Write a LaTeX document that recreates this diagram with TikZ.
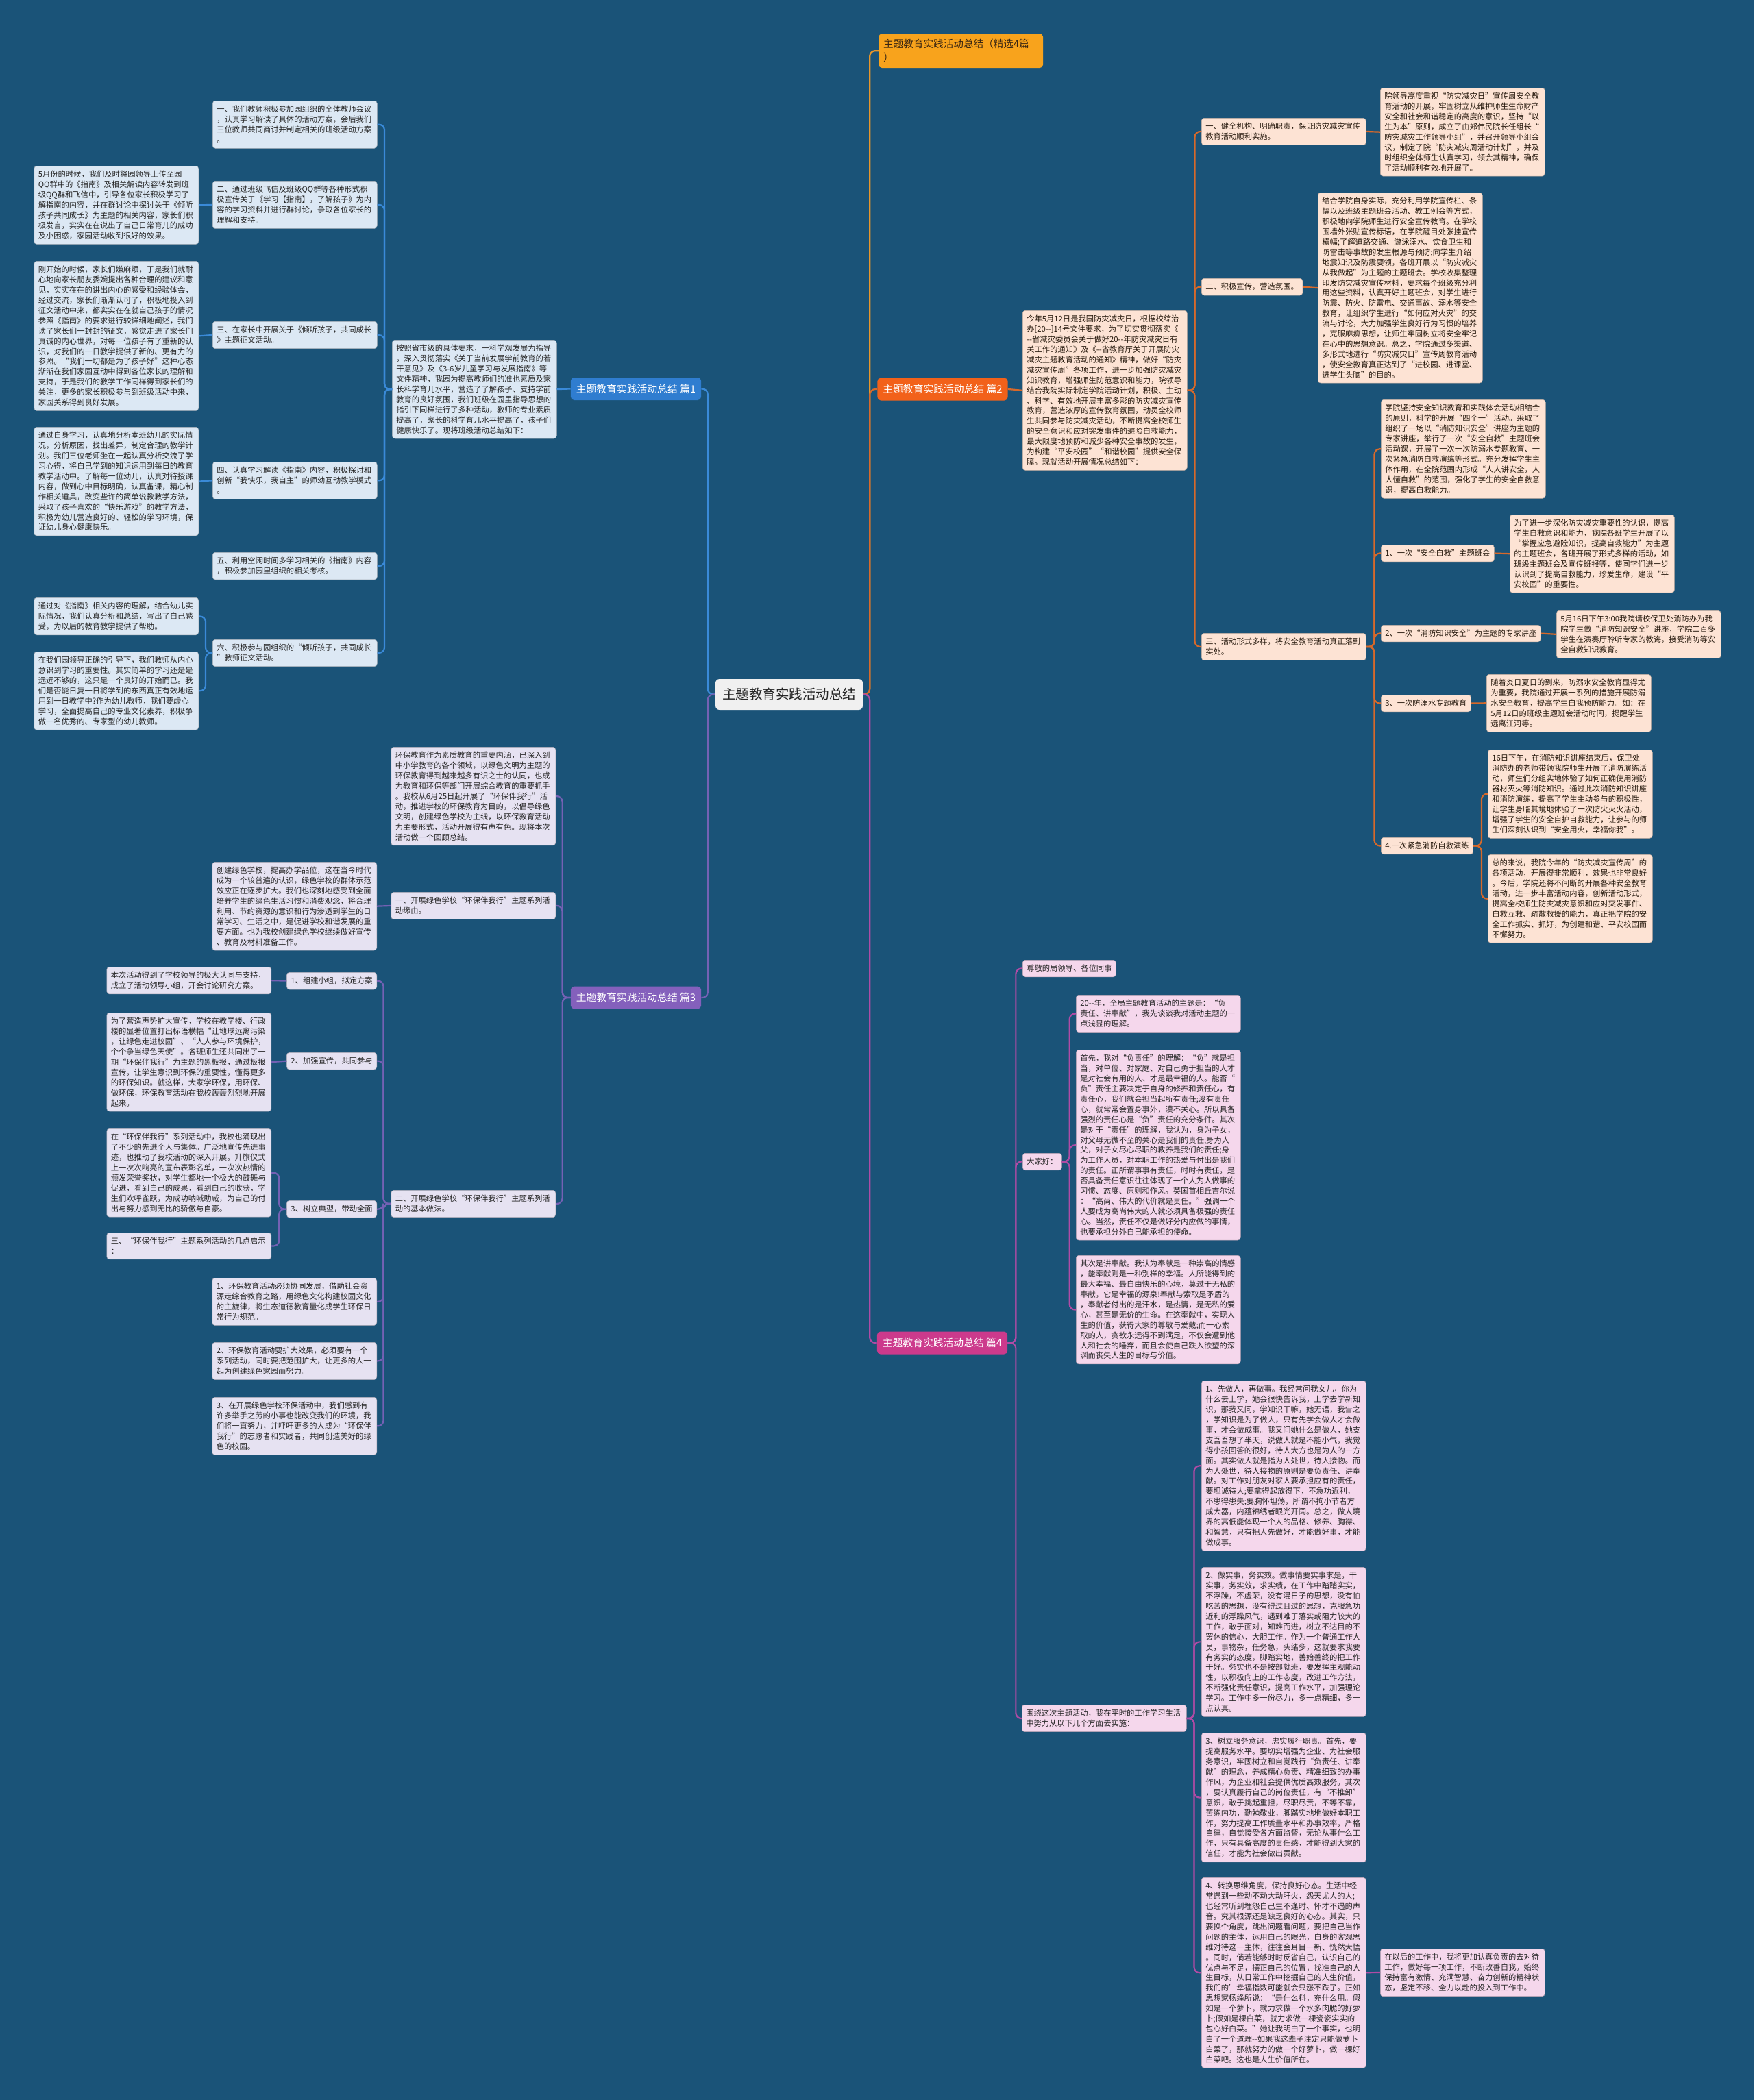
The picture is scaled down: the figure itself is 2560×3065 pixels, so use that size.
\documentclass[tikz,border=0pt]{standalone}
\usepackage{fontspec}
\setmainfont{Noto Sans CJK SC}
\definecolor{bgc}{HTML}{1A5378}
\definecolor{cA}{HTML}{3A8AD8}
\definecolor{lA}{HTML}{2F7DD0}
\definecolor{fA}{HTML}{DCE8F4}
\definecolor{cB}{HTML}{D8692A}
\definecolor{lB}{HTML}{F2611A}
\definecolor{fB}{HTML}{FDE3D4}
\definecolor{cC}{HTML}{7461B4}
\definecolor{lC}{HTML}{8460BC}
\definecolor{fC}{HTML}{E6E2F2}
\definecolor{cD}{HTML}{B04BA5}
\definecolor{lD}{HTML}{CC3A8C}
\definecolor{fD}{HTML}{F5D7EC}
\definecolor{topc}{HTML}{F8A31C}
\definecolor{topl}{HTML}{E8962A}
\newcommand\myleaf{\fontsize{11.3}{14.9}\selectfont}
\tikzset{
  leaf/.style={rounded corners=4pt, inner xsep=6pt, inner ysep=7pt, align=left, font=\myleaf, line width=0.5pt},
  wA/.style={leaf, fill=fA, draw=fA!75!black, text=black!85},
  wB/.style={leaf, fill=fB, draw=fB!75!black, text=black!80!brown},
  wC/.style={leaf, fill=fC, draw=fC!75!black, text=black!85},
  wD/.style={leaf, fill=fD, draw=fD!75!black, text=black!85},
  tw/.style={text width=228pt},
  lab/.style={rounded corners=5pt, text=white, font=\fontsize{14.8}{18}\selectfont, inner xsep=8pt, minimum height=33pt},
  ln/.style={line width=2.2pt, rounded corners=8pt},
  lnA/.style={ln, draw=cA},
  lnB/.style={ln, draw=cB},
  lnC/.style={ln, draw=cC},
  lnD/.style={ln, draw=cD},
}
\begin{document}
\begin{tikzpicture}[x=1pt,y=-1pt]
\fill[bgc] (0,0) rectangle (2560,3065);
\useasboundingbox (0,0) rectangle (2560,3065);

% center and top
\node[rounded corners=6pt, fill=black!6, text=black!85, font=\fontsize{19.5}{22}\selectfont, inner xsep=10pt, minimum height=45pt] (c) at (1151.5,1013.5) {主题教育实践活动总结};
\node[anchor=north west, rounded corners=5pt, fill=topc, text=black!70!brown, align=left, text width=226pt, inner xsep=7pt, inner ysep=8pt, font=\fontsize{14.6}{20}\selectfont] (t0) at (1282,49) {主题教育实践活动总结（精选4篇\\）};

% ===== Branch A (篇1) =====
\node[lab, fill=lA] (p1) at (928,567.5) {主题教育实践活动总结 篇1};
\node[wA, tw, anchor=north west] (a0) at (572,496) {按照省市级的具体要求，一科学观发展为指导\\，深入贯彻落实《关于当前发展学前教育的若\\干意见》及《3-6岁儿童学习与发展指南》等\\文件精神，我园为提高教师们的准也素质及家\\长科学育儿水平，营造了了解孩子、支持学前\\教育的良好氛围，我们班级在园里指导思想的\\指引下同样进行了多种活动，教师的专业素质\\提高了，家长的科学育儿水平提高了，孩子们\\健康快乐了。现将班级活动总结如下：};
\node[wA, tw, anchor=north west] (a1) at (310,147) {一、我们教师积极参加园组织的全体教师会议\\，认真学习解读了具体的活动方案，会后我们\\三位教师共同商讨并制定相关的班级活动方案\\。};
\node[wA, tw, anchor=north west] (a2) at (310,264) {二、通过班级飞信及班级QQ群等各种形式积\\极宣传关于《学习【指南】，了解孩子》为内\\容的学习资料并进行群讨论，争取各位家长的\\理解和支持。};
\node[wA, tw, anchor=north west] (a3) at (310,469) {三、在家长中开展关于《倾听孩子，共同成长\\》主题征文活动。};
\node[wA, tw, anchor=north west] (a4) at (310,674) {四、认真学习解读《指南》内容，积极探讨和\\创新“我快乐，我自主”的师幼互动教学模式\\。};
\node[wA, tw, anchor=north west] (a5) at (310,806) {五、利用空闲时间多学习相关的《指南》内容\\，积极参加园里组织的相关考核。};
\node[wA, tw, anchor=north west] (a6) at (310,933) {六、积极参与园组织的“倾听孩子，共同成长\\”教师征文活动。};
\node[wA, tw, anchor=north west] (a2c) at (49.5,242) {5月份的时候，我们及时将园领导上传至园\\QQ群中的《指南》及相关解读内容转发到班\\级QQ群和飞信中，引导各位家长积极学习了\\解指南的内容，并在群讨论中探讨关于《倾听\\孩子共同成长》为主题的相关内容，家长们积\\极发言，实实在在说出了自己日常育儿的成功\\及小困惑，家园活动收到很好的效果。};
\node[wA, tw, anchor=north west] (a3c) at (49.5,381) {刚开始的时候，家长们嫌麻烦，于是我们就耐\\心地向家长朋友委婉提出各种合理的建议和意\\见，实实在在的讲出内心的感受和经验体会，\\经过交流，家长们渐渐认可了，积极地投入到\\征文活动中来，都实实在在就自己孩子的情况\\参照《指南》的要求进行较详细地阐述，我们\\读了家长们一封封的征文，感觉走进了家长们\\真诚的内心世界，对每一位孩子有了重新的认\\识，对我们的一日教学提供了新的、更有力的\\参照。“我们一切都是为了孩子好”这种心态\\渐渐在我们家园互动中得到各位家长的理解和\\支持，于是我们的教学工作同样得到家长们的\\关注，更多的家长积极参与到班级活动中来，\\家园关系得到良好发展。};
\node[wA, tw, anchor=north west] (a4c) at (49.5,623) {通过自身学习，认真地分析本班幼儿的实际情\\况，分析原因，找出差异，制定合理的教学计\\划。我们三位老师坐在一起认真分析交流了学\\习心得，将自己学到的知识运用到每日的教育\\教学活动中。了解每一位幼儿，认真对待授课\\内容，做到心中目标明确，认真备课，精心制\\作相关道具，改变些许的简单说教教学方法，\\采取了孩子喜欢的“快乐游戏”的教学方法，\\积极为幼儿营造良好的、轻松的学习环境，保\\证幼儿身心健康快乐。};
\node[wA, tw, anchor=north west] (a6c1) at (49.5,872) {通过对《指南》相关内容的理解，结合幼儿实\\际情况，我们认真分析和总结，写出了自己感\\受，为以后的教育教学提供了帮助。};
\node[wA, tw, anchor=north west] (a6c2) at (49.5,951) {在我们园领导正确的引导下，我们教师从内心\\意识到学习的重要性。其实简单的学习还是是\\远远不够的，这只是一个良好的开始而已。我\\们是否能日复一日将学到的东西真正有效地运\\用到一日教学中?作为幼儿教师，我们要虚心\\学习，全面提高自己的专业文化素养，积极争\\做一名优秀的、专家型的幼儿教师。};

% ===== Branch B (篇2) =====
\node[lab, fill=lB] (p2) at (1375.5,568) {主题教育实践活动总结 篇2};
\node[wB, tw, anchor=north west] (b0) at (1492,453) {今年5月12日是我国防灾减灾日，根据校综治\\办[20-{}-]14号文件要求，为了切实贯彻落实《\\-{}-省减灾委员会关于做好20-{}-年防灾减灾日有\\关工作的通知》及《-{}-省教育厅关于开展防灾\\减灾主题教育活动的通知》精神，做好“防灾\\减灾宣传周”各项工作，进一步加强防灾减灾\\知识教育，增强师生防范意识和能力，院领导\\结合我院实际制定学院活动计划，积极、主动\\、科学、有效地开展丰富多彩的防灾减灾宣传\\教育，营造浓厚的宣传教育氛围，动员全校师\\生共同参与防灾减灾活动，不断提高全校师生\\的安全意识和应对突发事件的避险自救能力，\\最大限度地预防和减少各种安全事故的发生，\\为构建“平安校园”“和谐校园”提供安全保\\障。现就活动开展情况总结如下：};
\node[wB, tw, anchor=north west] (b1) at (1753,172) {一、健全机构、明确职责，保证防灾减灾宣传\\教育活动顺利实施。};
\node[wB, tw, anchor=north west] (b1c) at (2014,128) {院领导高度重视“防灾减灾日”宣传周安全教\\育活动的开展，牢固树立从维护师生生命财产\\安全和社会和谐稳定的高度的意识，坚持“以\\生为本”原则，成立了由郑伟民院长任组长“\\防灾减灾工作领导小组”，并召开领导小组会\\议，制定了院“防灾减灾周活动计划”，并及\\时组织全体师生认真学习，领会其精神，确保\\了活动顺利有效地开展了。};
\node[wB, anchor=north west] (b2) at (1753,406) {二、积极宣传，营造氛围。};
\node[wB, tw, anchor=north west] (b2c) at (1923,281) {结合学院自身实际，充分利用学院宣传栏、条\\幅以及班级主题班会活动、教工例会等方式，\\积极地向学院师生进行安全宣传教育。在学校\\围墙外张贴宣传标语，在学院醒目处张挂宣传\\横幅;了解道路交通、游泳溺水、饮食卫生和\\防雷击等事故的发生根源与预防;向学生介绍\\地震知识及防震要领，各班开展以“防灾减灾\\从我做起”为主题的主题班会。学校收集整理\\印发防灾减灾宣传材料，要求每个班级充分利\\用这些资料，认真开好主题班会，对学生进行\\防震、防火、防雷电、交通事故、溺水等安全\\教育，让组织学生进行“如何应对火灾”的交\\流与讨论，大力加强学生良好行为习惯的培养\\，克服麻痹思想，让师生牢固树立将安全牢记\\在心中的思想意识。总之，学院通过多渠道、\\多形式地进行“防灾减灾日”宣传周教育活动\\，使安全教育真正达到了“进校园、进课堂、\\进学生头脑”的目的。};
\node[wB, tw, anchor=north west] (b3) at (1753,924) {三、活动形式多样，将安全教育活动真正落到\\实处。};
\node[wB, tw, anchor=north west] (b30) at (2015,583) {学院坚持安全知识教育和实践体会活动相结合\\的原则，科学的开展“四个一”活动。采取了\\组织了一场以“消防知识安全”讲座为主题的\\专家讲座，举行了一次“安全自救”主题班会\\活动课，开展了一次一次防溺水专题教育、一\\次紧急消防自救演练等形式。充分发挥学生主\\体作用，在全院范围内形成“人人讲安全，人\\人懂自救”的范围，强化了学生的安全自救意\\识，提高自救能力。};
\node[wB, anchor=north west] (b31) at (2015,795) {1、一次“安全自救”主题班会};
\node[wB, tw, anchor=north west] (b31c) at (2203,751) {为了进一步深化防灾减灾重要性的认识，提高\\学生自救意识和能力，我院各班学生开展了以\\“掌握应急避险知识，提高自救能力”为主题\\的主题班会，各班开展了形式多样的活动，如\\班级主题班会及宣传班报等，使同学们进一步\\认识到了提高自救能力，珍爱生命，建设“平\\安校园”的重要性。};
\node[wB, anchor=north west] (b32) at (2015,912) {2、一次“消防知识安全”为主题的专家讲座};
\node[wB, tw, anchor=north west] (b32c) at (2271,891) {5月16日下午3:00我院请校保卫处消防办为我\\院学生做“消防知识安全”讲座，学院二百多\\学生在演奏厅聆听专家的教诲，接受消防等安\\全自救知识教育。};
\node[wB, anchor=north west] (b33) at (2015,1014) {3、一次防溺水专题教育};
\node[wB, tw, anchor=north west] (b33c) at (2169,984) {随着炎日夏日的到来，防溺水安全教育显得尤\\为重要，我院通过开展一系列的措施开展防溺\\水安全教育，提高学生自我预防能力。如：在\\5月12日的班级主题班会活动时间，提醒学生\\远离江河等。};
\node[wB, anchor=north west] (b34) at (2015,1222) {4.一次紧急消防自救演练};
\node[wB, tw, anchor=north west] (b34c1) at (2171,1094) {16日下午，在消防知识讲座结束后，保卫处\\消防办的老师带领我院师生开展了消防演练活\\动，师生们分组实地体验了如何正确使用消防\\器材灭火等消防知识。通过此次消防知识讲座\\和消防演练，提高了学生主动参与的积极性，\\让学生身临其境地体验了一次防火灭火活动，\\增强了学生的安全自护自救能力，让参与的师\\生们深刻认识到“安全用火，幸福你我”。};
\node[wB, tw, anchor=north west] (b34c2) at (2171,1247) {总的来说，我院今年的“防灾减灾宣传周”的\\各项活动，开展得非常顺利，效果也非常良好\\。今后，学院还将不间断的开展各种安全教育\\活动，进一步丰富活动内容，创新活动形式，\\提高全校师生防灾减灾意识和应对突发事件、\\自救互救、疏散救援的能力，真正把学院的安\\全工作抓实、抓好，为创建和谐、平安校园而\\不懈努力。};

% ===== Branch C (篇3) =====
\node[lab, fill=lC] (p3) at (928,1456) {主题教育实践活动总结 篇3};
\node[wC, tw, anchor=north east] (c0) at (811,1090) {环保教育作为素质教育的重要内涵，已深入到\\中小学教育的各个领域，以绿色文明为主题的\\环保教育得到越来越多有识之士的认同，也成\\为教育和环保等部门开展综合教育的重要抓手\\。我校从6月25日起开展了“环保伴我行”活\\动，推进学校的环保教育为目的，以倡导绿色\\文明，创建绿色学校为主线，以环保教育活动\\为主要形式，活动开展得有声有色。现将本次\\活动做一个回顾总结。};
\node[wC, tw, anchor=north east] (c1) at (811,1302) {一、开展绿色学校“环保伴我行”主题系列活\\动缘由。};
\node[wC, tw, anchor=north east] (c1c) at (550,1258) {创建绿色学校，提高办学品位，这在当今时代\\成为一个较普遍的认识，绿色学校的群体示范\\效应正在逐步扩大。我们也深刻地感受到全面\\培养学生的绿色生活习惯和消费观念，将合理\\利用、节约资源的意识和行为渗透到学生的日\\常学习、生活之中，是促进学校和谐发展的重\\要方面。也为我校创建绿色学校继续做好宣传\\、教育及材料准备工作。};
\node[wC, tw, anchor=north east] (c2) at (811,1737) {二、开展绿色学校“环保伴我行”主题系列活\\动的基本做法。};
\node[wC, anchor=north east] (c21) at (550,1419) {1、组建小组，拟定方案};
\node[wC, tw, anchor=north east] (c21c) at (396,1411) {本次活动得到了学校领导的极大认同与支持，\\成立了活动领导小组，开会讨论研究方案。};
\node[wC, anchor=north east] (c22) at (550,1536) {2、加强宣传，共同参与};
\node[wC, tw, anchor=north east] (c22c) at (396,1478) {为了营造声势扩大宣传，学校在教学楼、行政\\楼的显著位置打出标语横幅“让地球远离污染\\，让绿色走进校园”、“人人参与环境保护，\\个个争当绿色天使”。各班师生还共同出了一\\期“环保伴我行”为主题的黑板报，通过板报\\宣传，让学生意识到环保的重要性，懂得更多\\的环保知识。就这样，大家学环保，用环保、\\做环保，环保教育活动在我校轰轰烈烈地开展\\起来。};
\node[wC, anchor=north east] (c23) at (550,1752) {3、树立典型，带动全面};
\node[wC, tw, anchor=north east] (c23c1) at (396,1647) {在“环保伴我行”系列活动中，我校也涌现出\\了不少的先进个人与集体。广泛地宣传先进事\\迹，也推动了我校活动的深入开展。升旗仪式\\上一次次响亮的宣布表彰名单，一次次热情的\\颁发荣誉奖状，对学生都地一个极大的鼓舞与\\促进，看到自己的成果，看到自己的收获，学\\生们欢呼雀跃，为成功呐喊助威，为自己的付\\出与努力感到无比的骄傲与自豪。};
\node[wC, tw, anchor=north east] (c23c2) at (396,1799) {三、“环保伴我行”主题系列活动的几点启示\\：};
\node[wC, tw, anchor=north east] (c24) at (550,1865) {1、环保教育活动必须协同发展，借助社会资\\源走综合教育之路，用绿色文化构建校园文化\\的主旋律，将生态道德教育量化成学生环保日\\常行为规范。};
\node[wC, tw, anchor=north east] (c25) at (550,1959) {2、环保教育活动要扩大效果，必须要有一个\\系列活动，同时要把范围扩大，让更多的人一\\起为创建绿色家园而努力。};
\node[wC, tw, anchor=north east] (c26) at (550,2039) {3、在开展绿色学校环保活动中，我们感到有\\许多举手之劳的小事也能改变我们的环境，我\\们将一直努力，并呼吁更多的人成为“环保伴\\我行”的志愿者和实践者，共同创造美好的绿\\色的校园。};

% ===== Branch D (篇4) =====
\node[lab, fill=lD] (p4) at (1375,1960) {主题教育实践活动总结 篇4};
\node[wD, anchor=north west] (d1) at (1492,1401) {尊敬的局领导、各位同事};
\node[wD, anchor=north west] (d2) at (1492,1683) {大家好：};
\node[wD, tw, anchor=north west] (d21) at (1570,1452) {20-{}-年，全局主题教育活动的主题是：“负\\责任、讲奉献”，我先谈谈我对活动主题的一\\点浅显的理解。};
\node[wD, tw, anchor=north west] (d22) at (1570,1532) {首先，我对“负责任”的理解：“负”就是担\\当，对单位、对家庭、对自己勇于担当的人才\\是对社会有用的人、才是最幸福的人。能否“\\负”责任主要决定于自身的修养和责任心，有\\责任心，我们就会担当起所有责任;没有责任\\心，就常常会置身事外，漠不关心。所以具备\\强烈的责任心是“负”责任的充分条件。其次\\是对于“责任”的理解，我认为，身为子女，\\对父母无微不至的关心是我们的责任;身为人\\父，对子女尽心尽职的教养是我们的责任;身\\为工作人员，对本职工作的热爱与付出是我们\\的责任。正所谓事事有责任，时时有责任，是\\否具备责任意识往往体现了一个人为人做事的\\习惯、态度、原则和作风。英国首相丘吉尔说\\：“高尚、伟大的代价就是责任。”强调一个\\人要成为高尚伟大的人就必须具备极强的责任\\心。当然，责任不仅是做好分内应做的事情，\\也要承担分外自己能承担的使命。};
\node[wD, tw, anchor=north west] (d23) at (1570,1832) {其次是讲奉献。我认为奉献是一种崇高的情感\\，能奉献则是一种别样的幸福。人所能得到的\\最大幸福、最自由快乐的心境，莫过于无私的\\奉献，它是幸福的源泉!奉献与索取是矛盾的\\，奉献者付出的是汗水，是热情，是无私的爱\\心，甚至是无价的生命。在这奉献中，实现人\\生的价值，获得大家的尊敬与爱戴;而一心索\\取的人，贪欲永远得不到满足，不仅会遭到他\\人和社会的唾弃，而且会使自己跌入欲望的深\\渊而丧失人生的目标与价值。};
\node[wD, tw, anchor=north west] (d3) at (1491,2488) {围绕这次主题活动，我在平时的工作学习生活\\中努力从以下几个方面去实施：};
\node[wD, tw, anchor=north west] (d31) at (1753,2015) {1、先做人，再做事。我经常问我女儿，你为\\什么去上学，她会很快告诉我，上学去学新知\\识，那我又问，学知识干嘛，她无语，我告之\\，学知识是为了做人，只有先学会做人才会做\\事，才会做成事。我又问她什么是做人，她支\\支吾吾想了半天，说做人就是不能小气，我觉\\得小孩回答的很好，待人大方也是为人的一方\\面。其实做人就是指为人处世，待人接物。而\\为人处世，待人接物的原则是要负责任、讲奉\\献。对工作对朋友对家人要承担应有的责任，\\要坦诚待人;要拿得起放得下，不急功近利，\\不患得患失;要胸怀坦荡，所谓不拘小节者方\\成大器，内蕴锦绣者眼光开阔。总之，做人境\\界的高低能体现一个人的品格、修养、胸襟、\\和智慧，只有把人先做好，才能做好事，才能\\做成事。};
\node[wD, tw, anchor=north west] (d32) at (1753,2287) {2、做实事，务实效。做事情要实事求是，干\\实事，务实效，求实绩，在工作中踏踏实实，\\不浮躁，不虚荣，没有混日子的思想，没有怕\\吃苦的思想，没有得过且过的思想，克服急功\\近利的浮躁风气，遇到难于落实或阻力较大的\\工作，敢于面对，知难而进，树立不达目的不\\罢休的信心，大胆工作。作为一个普通工作人\\员，事物杂，任务急，头绪多，这就要求我要\\有务实的态度，脚踏实地，善始善终的把工作\\干好。务实也不是按部就班，要发挥主观能动\\性，以积极向上的工作态度，改进工作方法，\\不断强化责任意识，提高工作水平，加强理论\\学习。工作中多一份尽力，多一点精细，多一\\点认真。};
\node[wD, tw, anchor=north west] (d33) at (1753,2529) {3、树立服务意识，忠实履行职责。首先，要\\提高服务水平。要切实增强为企业、为社会服\\务意识，牢固树立和自觉践行“负责任、讲奉\\献”的理念，养成精心负责、精准细致的办事\\作风，为企业和社会提供优质高效服务。其次\\，要认真履行自己的岗位责任，有“不推卸”\\意识，敢于挑起重担，尽职尽责，不等不靠，\\苦练内功，勤勉敬业，脚踏实地地做好本职工\\作，努力提高工作质量水平和办事效率，严格\\自律，自觉接受各方面监督，无论从事什么工\\作，只有具备高度的责任感，才能得到大家的\\信任，才能为社会做出贡献。};
\node[wD, tw, anchor=north west] (d34) at (1753,2740) {4、转换思维角度，保持良好心态。生活中经\\常遇到一些动不动大动肝火，怨天尤人的人;\\也经常听到埋怨自己生不逢时、怀才不遇的声\\音。究其根源还是缺乏良好的心态。其实，只\\要换个角度，跳出问题看问题，要把自己当作\\问题的主体，运用自己的眼光，自身的客观思\\维对待这一主体，往往会耳目一新、恍然大悟\\。同时，倘若能够时时反省自己，认识自己的\\优点与不足，摆正自己的位置，找准自己的人\\生目标，从日常工作中挖掘自己的人生价值，\\我们的'幸福指数可能就会只涨不跌了。正如\\思想家杨绛所说：“是什么料，充什么用。假\\如是一个萝卜，就力求做一个水多肉脆的好萝\\卜;假如是棵白菜，就力求做一棵瓷瓷实实的\\包心好白菜。”她让我明白了一个事实，也明\\白了一个道理-{}-如果我这辈子注定只能做萝卜\\白菜了，那就努力的做一个好萝卜，做一棵好\\白菜吧。这也是人生价值所在。};
\node[wD, tw, anchor=north west] (d34c) at (2014,2844) {在以后的工作中，我将更加认真负责的去对待\\工作，做好每一项工作，不断改善自我。始终\\保持富有激情、充满智慧、奋力创新的精神状\\态，坚定不移、全力以赴的投入到工作中。};

% ===== connectors =====
% top
\draw[ln, draw=topl] (c.east) -- ++(10,0) |- (t0.west);
% A
\draw[lnA] (c.west) -- ++(-11,0) |- (p1.east);
\draw[lnA] (p1.west) -- (a0.east);
\foreach \n in {a1,a2,a3,a4,a5,a6} \draw[lnA] (a0.west) -- ++(-11,0) |- (\n.east);
\draw[lnA] (a2.west) -- (a2c.east);
\draw[lnA] (a3.west) -- (a3c.east);
\draw[lnA] (a4.west) -- (a4c.east);
\foreach \n in {a6c1,a6c2} \draw[lnA] (a6.west) -- ++(-10,0) |- (\n.east);
% B
\draw[lnB] (c.east) -- ++(10,0) |- (p2.west);
\draw[lnB] (p2.east) -- (b0.west);
\foreach \n in {b1,b2,b3} \draw[lnB] (b0.east) -- ++(11,0) |- (\n.west);
\draw[lnB] (b1.east) -- (b1c.west);
\draw[lnB] (b2.east) -- (b2c.west);
\foreach \n in {b30,b31,b32,b33,b34} \draw[lnB] (b3.east) -- ++(12,0) |- (\n.west);
\draw[lnB] (b31.east) -- (b31c.west);
\draw[lnB] (b32.east) -- (b32c.west);
\draw[lnB] (b33.east) -- (b33c.west);
\foreach \n in {b34c1,b34c2} \draw[lnB] (b34.east) -- ++(12,0) |- (\n.west);
% C
\draw[lnC] (c.west) -- ++(-11,0) |- (p3.east);
\foreach \n in {c0,c1,c2} \draw[lnC] (p3.west) -- ++(-12,0) |- (\n.east);
\draw[lnC] (c1.west) -- (c1c.east);
\foreach \n in {c21,c22,c23,c24,c25,c26} \draw[lnC] (c2.west) -- ++(-11,0) |- (\n.east);
\draw[lnC] (c21.west) -- (c21c.east);
\draw[lnC] (c22.west) -- (c22c.east);
\foreach \n in {c23c1,c23c2} \draw[lnC] (c23.west) -- ++(-11,0) |- (\n.east);
% D
\draw[lnD] (c.east) -- ++(10,0) |- (p4.west);
\foreach \n in {d1,d2,d3} \draw[lnD] (p4.east) -- ++(12,0) |- (\n.west);
\foreach \n in {d21,d22,d23} \draw[lnD] (d2.east) -- ++(11,0) |- (\n.west);
\foreach \n in {d31,d32,d33,d34} \draw[lnD] (d3.east) -- ++(11,0) |- (\n.west);
\draw[lnD] (d34.east) -- (d34c.west);
\end{tikzpicture}
\end{document}
